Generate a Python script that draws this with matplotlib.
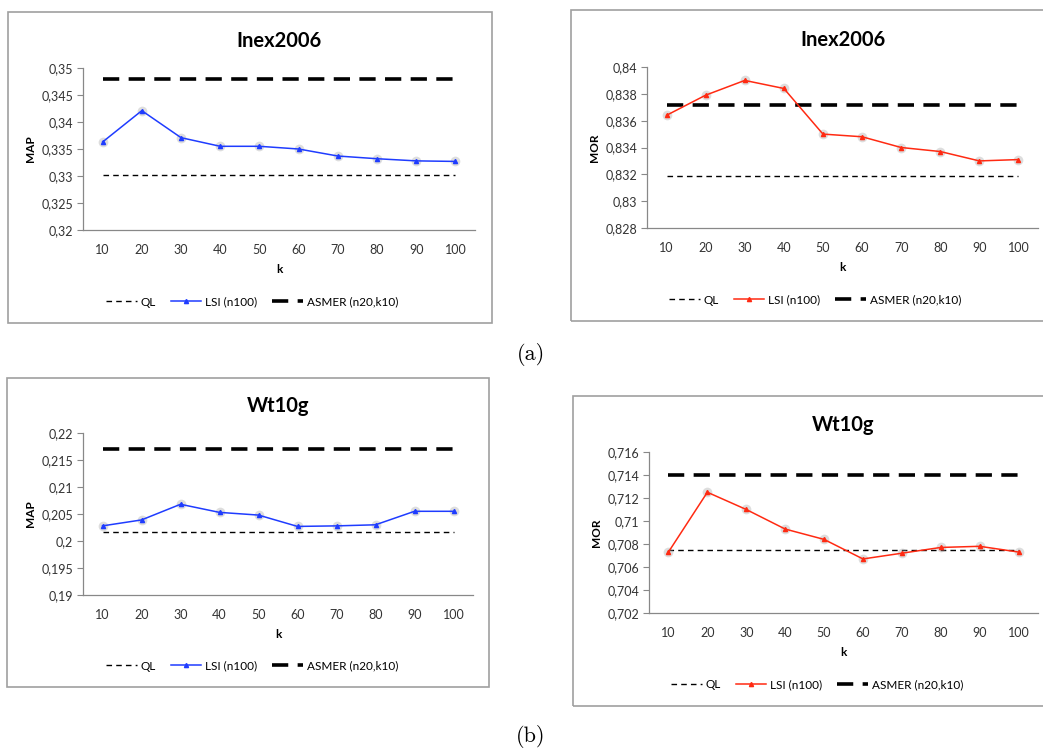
import matplotlib
matplotlib.use("Agg")
import matplotlib.pyplot as plt
from matplotlib.patches import Rectangle
from matplotlib.ticker import FuncFormatter

plt.rcParams["font.family"] = ["Lato", "DejaVu Sans"]

W, H = 1043, 754

k_labels = ["10", "20", "30", "40", "50", "60", "70", "80", "90", "100"]

# Inex2006 - MAP
inex_map_lsi = [0.3363, 0.3421, 0.3371, 0.3355, 0.3355, 0.3350, 0.3337, 0.3332, 0.3328, 0.3327]
inex_map_ql = 0.3301
inex_map_asmer = 0.3480

# Inex2006 - MOR
inex_mor_lsi = [0.8364, 0.8379, 0.8390, 0.8384, 0.8350, 0.8348, 0.8340, 0.8337, 0.8330, 0.8331]
inex_mor_ql = 0.8319
inex_mor_asmer = 0.8372

# Wt10g - MAP
wt_map_lsi = [0.2028, 0.2039, 0.2068, 0.2053, 0.2048, 0.2027, 0.2028, 0.2030, 0.2055, 0.2055]
wt_map_ql = 0.2017
wt_map_asmer = 0.2170

# Wt10g - MOR
wt_mor_lsi = [0.7073, 0.7125, 0.7110, 0.7093, 0.7084, 0.7067, 0.7072, 0.7077, 0.7078, 0.7073]
wt_mor_ql = 0.7075
wt_mor_asmer = 0.7140

BLUE = "#1f3cff"
RED = "#ff2a12"


def px_rect(left, top, right, bottom):
    """pixel box (top-origin) -> figure fraction [l, b, w, h]"""
    return [left / W, 1 - bottom / H, (right - left) / W, (bottom - top) / H]


def comma_fmt(decimals):
    def f(v, _):
        s = f"{v:.{decimals}f}".rstrip("0").rstrip(".")
        return s.replace(".", ",")
    return FuncFormatter(f)


def panel(fig, box, ax_box, legend_x, title, ylabel, lsi, ql, asmer, color, ylim, ystep, decimals):
    # outer frame
    l, t, r, b = box
    fig.patches.append(Rectangle((l / W, 1 - b / H), (r - l) / W, (b - t) / H,
                                 transform=fig.transFigure, fill=False,
                                 edgecolor="#a0a0a0", linewidth=1.2))
    ax = fig.add_axes(px_rect(*ax_box))
    x = list(range(1, len(k_labels) + 1))
    n = len(x)
    ax.plot(x, [ql] * n, color="black", linewidth=1.0, dashes=(4, 3), label="QL")
    # soft marker shadow
    ax.plot(x, lsi, linestyle="none", marker="o", markersize=7, color="#a0a0a0",
            alpha=0.35, markeredgewidth=0, zorder=2)
    ax.plot(x, lsi, color=color, linewidth=1.1, marker="^", markersize=3,
            label="LSI (n100)", zorder=3)
    ax.plot(x, [asmer] * n, color="black", linewidth=2.6, dashes=(4.5, 2.6),
            label="ASMER (n20,k10)")

    ax.set_xlim(0.5, n + 0.5)
    ax.set_ylim(*ylim)
    yt = []
    v = ylim[0]
    while v <= ylim[1] + 1e-9:
        yt.append(v)
        v += ystep
    ax.set_yticks(yt)
    ax.yaxis.set_major_formatter(comma_fmt(decimals))
    ax.set_xticks(x)
    ax.set_xticklabels(k_labels)
    ax.tick_params(axis="x", length=0, pad=10, labelsize=9, colors="#333333")
    ax.tick_params(axis="y", length=4, width=0.8, color="#888888", pad=3,
                   labelsize=9, labelcolor="#333333")
    for s in ("top", "right"):
        ax.spines[s].set_visible(False)
    for s in ("left", "bottom"):
        ax.spines[s].set_color("#888888")
        ax.spines[s].set_linewidth(0.9)

    ax.set_xlabel("k", fontsize=8.5, fontweight="bold", labelpad=6)
    ax.set_ylabel(ylabel, fontsize=8.5, fontweight="bold", labelpad=4)
    ax.set_title(title, fontsize=14.5, fontweight="bold", pad=15)

    handles, labels = ax.get_legend_handles_labels()
    ly = 1 - (b - 21) / H
    fig.legend(handles, labels, loc="center", bbox_to_anchor=(legend_x / W, ly), ncol=3,
               frameon=False, fontsize=8.5, handlelength=2.6, columnspacing=1.3,
               handletextpad=0.3)
    return ax


fig = plt.figure(figsize=(W / 100, H / 100), dpi=100)

panel(fig, (8, 12, 492, 323), (83, 68, 475, 230), 252, "Inex2006", "MAP",
      inex_map_lsi, inex_map_ql, inex_map_asmer, BLUE, (0.32, 0.35), 0.005, 3)
panel(fig, (571, 10, 1050, 321), (647, 67, 1038, 228), 815, "Inex2006", "MOR",
      inex_mor_lsi, inex_mor_ql, inex_mor_asmer, RED, (0.828, 0.84), 0.002, 3)
panel(fig, (7, 378, 489, 687), (83, 433, 473, 595), 252, "Wt10g", "MAP",
      wt_map_lsi, wt_map_ql, wt_map_asmer, BLUE, (0.19, 0.22), 0.005, 3)
panel(fig, (573, 396, 1050, 706), (649, 452, 1038, 613), 817, "Wt10g", "MOR",
      wt_mor_lsi, wt_mor_ql, wt_mor_asmer, RED, (0.702, 0.716), 0.002, 3)

fig.text(531 / W, 1 - 355 / H, "(a)", family="cmr10", fontsize=16,
         ha="center", va="center")
fig.text(531 / W, 1 - 736 / H, "(b)", family="cmr10", fontsize=16,
         ha="center", va="center")

fig.savefig("out.png", dpi=100)
